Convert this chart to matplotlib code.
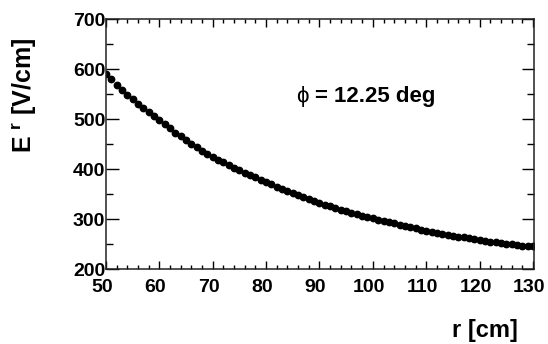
import numpy as np
import matplotlib
matplotlib.use('Agg')
from matplotlib import pyplot as plt
from matplotlib.ticker import MultipleLocator
from matplotlib.transforms import ScaledTranslation

plt.rcParams['font.family'] = ['Liberation Sans', 'DejaVu Sans']
plt.rcParams['mathtext.fontset'] = 'custom'
plt.rcParams['mathtext.rm'] = 'Liberation Sans:bold'
plt.rcParams['mathtext.bf'] = 'Liberation Sans:bold'

# radial field along r (1 cm steps)
r_cm = np.arange(50, 131)
e_r = [591, 580, 569, 559, 549, 540,
       531, 522, 514, 506, 498,
       490, 482, 473, 466, 458,
       451, 444, 437, 431, 425,
       419, 414, 408, 403, 398,
       393, 388, 384, 379, 375,
       370, 365, 361, 356, 352,
       348, 344, 340, 337, 333,
       329, 326, 323, 319, 316,
       313, 310, 307, 305, 302,
       299, 297, 294, 292, 289,
       287, 284, 282, 279, 277,
       275, 273, 271, 269, 267,
       265, 264, 262, 260, 259,
       257, 255, 254, 252, 251,
       250, 248, 247, 246, 246]
phi_deg = 12.25

fig = plt.figure(figsize=(5.48, 3.44), dpi=100)
ax = fig.add_axes([106 / 548, 1 - 269 / 344, 428 / 548, 250 / 344])

ax.plot(r_cm, e_r, 'o', color='black', ms=4.6, mec='black')

ax.set_xlim(50, 130.2)
ax.set_ylim(200, 700)
ax.xaxis.set_major_locator(MultipleLocator(10))
ax.xaxis.set_minor_locator(MultipleLocator(2))
ax.yaxis.set_major_locator(MultipleLocator(100))
ax.yaxis.set_minor_locator(MultipleLocator(50))

for s in ax.spines.values():
    s.set_linewidth(1.1)
    s.set_color('#222222')

ax.tick_params(axis='x', which='major', direction='in', top=True, length=6, width=1, pad=7)
ax.tick_params(axis='x', which='minor', direction='in', top=True, length=3, width=1)
ax.tick_params(axis='y', which='major', direction='in', right=True, length=9, width=1, pad=0.5)
ax.tick_params(axis='y', which='minor', direction='in', right=True, length=5, width=1)
shift = ScaledTranslation(-4 / 100, 0, fig.dpi_scale_trans)
for lab in ax.get_xticklabels():
    lab.set_fontsize(14)
    lab.set_fontweight('bold')
    lab.set_transform(lab.get_transform() + shift)
for lab in ax.get_yticklabels():
    lab.set_fontsize(14)
    lab.set_fontweight('bold')

fig.text(25 / 548, 1 - 38 / 344, r'E $^{\mathrm{r}}$ [V/cm]', rotation=90,
         ha='center', va='top', fontsize=18, fontweight='bold')
fig.text(518 / 548, 1 - 330 / 344, 'r [cm]', ha='right', va='center',
         fontsize=17, fontweight='bold')

ax.text(0.445, 0.69, '\u03d5', transform=ax.transAxes, fontsize=16,
        ha='left', va='center')
ax.text(0.488, 0.69, f'= {phi_deg} deg', transform=ax.transAxes, fontsize=16,
        ha='left', va='center', fontweight='bold')

fig.savefig('out.png', dpi=100)
